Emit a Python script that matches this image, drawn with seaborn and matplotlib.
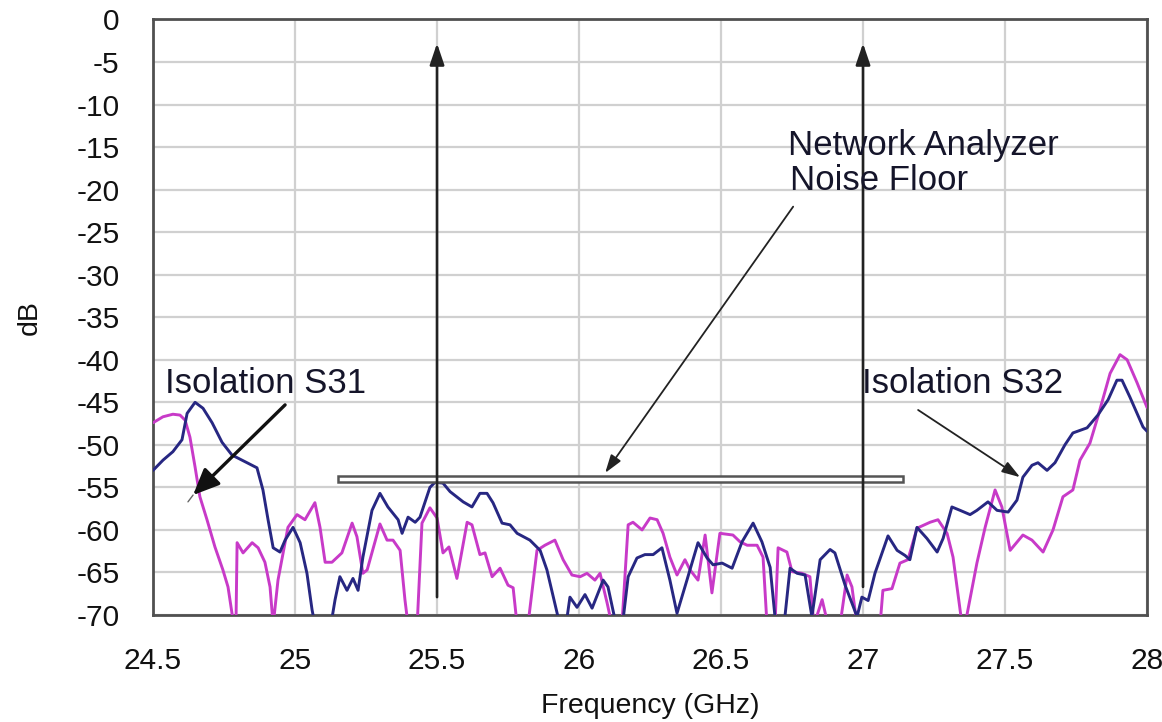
import matplotlib
matplotlib.use("Agg")
import matplotlib.pyplot as plt
import seaborn as sns
import pandas as pd
from matplotlib.patches import Rectangle

# ---------------- data ----------------
s32_freq = [24.500, 24.535, 24.570, 24.602, 24.620, 24.648, 24.676, 24.708, 24.743, 24.778,
            24.831, 24.866, 24.887, 24.905, 24.923, 24.947, 24.965, 24.993, 25.018, 25.042,
            25.060, 25.074, 25.123, 25.141, 25.158, 25.183, 25.204, 25.222, 25.239, 25.271,
            25.299, 25.327, 25.363, 25.377, 25.398, 25.423, 25.440, 25.475, 25.493, 25.521,
            25.546, 25.592, 25.623, 25.651, 25.676, 25.697, 25.729, 25.757, 25.782, 25.827,
            25.863, 25.887, 25.923, 25.933, 25.954, 25.968, 25.993, 26.021, 26.046, 26.085,
            26.102, 26.127, 26.155, 26.173, 26.204, 26.232, 26.261, 26.292, 26.320, 26.345,
            26.380, 26.419, 26.451, 26.472, 26.504, 26.539, 26.574, 26.613, 26.644, 26.673,
            26.690, 26.725, 26.743, 26.768, 26.796, 26.820, 26.849, 26.884, 26.901, 26.937,
            26.961, 26.979, 26.996, 27.018, 27.042, 27.088, 27.120, 27.148, 27.165, 27.190,
            27.225, 27.261, 27.282, 27.313, 27.342, 27.377, 27.401, 27.440, 27.472, 27.511,
            27.542, 27.563, 27.595, 27.616, 27.648, 27.676, 27.711, 27.739, 27.789, 27.827,
            27.863, 27.894, 27.912, 27.940, 27.986, 28.000]
s32_db = [-53.0, -51.8, -50.8, -49.4, -46.3, -45.0, -45.7, -47.4, -49.7, -51.2,
          -52.1, -52.7, -55.3, -58.8, -62.1, -62.6, -61.2, -59.7, -61.5, -65.1,
          -69.4, -71.8, -71.8, -68.2, -65.5, -67.1, -65.7, -67.1, -63.2, -57.7,
          -55.7, -57.3, -58.8, -60.4, -58.5, -59.1, -58.5, -55.0, -54.4, -54.5,
          -55.5, -56.7, -57.3, -55.7, -55.7, -56.8, -59.2, -59.4, -60.4, -61.2,
          -62.4, -64.7, -69.8, -71.2, -71.2, -67.9, -69.1, -67.6, -69.2, -65.9,
          -66.7, -70.6, -70.6, -65.5, -63.3, -62.9, -62.9, -62.1, -65.9, -69.8,
          -65.9, -61.5, -63.3, -64.1, -63.9, -64.5, -61.4, -59.2, -61.4, -64.4,
          -70.2, -70.2, -64.5, -65.1, -65.3, -70.2, -63.5, -62.3, -62.7, -66.5,
          -68.6, -70.2, -67.9, -68.3, -65.1, -60.7, -62.4, -63.0, -63.5, -59.7,
          -61.0, -62.6, -61.0, -57.3, -57.7, -58.2, -57.7, -56.7, -57.7, -57.9,
          -56.5, -53.8, -52.4, -52.1, -53.0, -52.1, -50.0, -48.6, -48.0, -46.5,
          -44.7, -42.4, -42.4, -44.4, -47.9, -48.4]

s31_freq = [24.500, 24.535, 24.570, 24.595, 24.613, 24.630, 24.648, 24.665, 24.690, 24.718,
            24.746, 24.764, 24.778, 24.785, 24.792, 24.796, 24.817, 24.849, 24.870, 24.894,
            24.912, 24.923, 24.940, 24.958, 24.975, 25.007, 25.035, 25.070, 25.088, 25.106,
            25.130, 25.165, 25.201, 25.218, 25.239, 25.254, 25.299, 25.324, 25.345, 25.370,
            25.387, 25.398, 25.430, 25.447, 25.475, 25.500, 25.521, 25.542, 25.570, 25.606,
            25.623, 25.651, 25.669, 25.694, 25.722, 25.750, 25.768, 25.782, 25.820, 25.852,
            25.880, 25.915, 25.944, 25.975, 26.004, 26.028, 26.056, 26.074, 26.099, 26.116,
            26.151, 26.173, 26.190, 26.222, 26.250, 26.275, 26.296, 26.320, 26.345, 26.373,
            26.391, 26.419, 26.444, 26.468, 26.496, 26.542, 26.567, 26.592, 26.627, 26.648,
            26.662, 26.690, 26.701, 26.732, 26.750, 26.785, 26.813, 26.827, 26.856, 26.877,
            26.919, 26.944, 26.961, 26.979, 27.060, 27.070, 27.102, 27.130, 27.158, 27.190,
            27.236, 27.264, 27.296, 27.317, 27.349, 27.359, 27.401, 27.430, 27.465, 27.489,
            27.518, 27.563, 27.595, 27.634, 27.669, 27.704, 27.739, 27.764, 27.799, 27.827,
            27.870, 27.905, 27.930, 27.965, 28.000]
s31_db = [-47.4, -46.7, -46.4, -46.5, -47.1, -49.1, -52.6, -56.1, -58.8, -62.0,
          -64.7, -66.7, -69.8, -71.2, -71.2, -61.5, -62.7, -61.5, -62.1, -63.8,
          -66.7, -71.2, -65.9, -62.7, -59.7, -58.2, -58.8, -56.8, -59.7, -63.8,
          -63.8, -62.7, -59.2, -60.8, -65.1, -64.7, -59.3, -61.2, -61.2, -62.4,
          -68.2, -71.2, -71.2, -59.2, -57.4, -58.6, -62.7, -62.0, -65.7, -59.1,
          -59.4, -62.9, -62.7, -65.5, -64.5, -66.5, -66.8, -71.2, -71.2, -62.4,
          -61.8, -61.2, -63.5, -65.3, -65.5, -65.1, -65.9, -65.1, -68.6, -71.2,
          -71.2, -59.4, -59.1, -60.0, -58.6, -58.8, -60.4, -63.2, -65.3, -63.5,
          -64.7, -65.9, -60.6, -67.4, -60.4, -60.6, -61.4, -61.8, -61.8, -63.2,
          -71.2, -71.2, -62.1, -62.6, -64.9, -65.1, -65.5, -71.2, -68.2, -71.2,
          -71.2, -65.3, -66.7, -71.2, -71.2, -67.1, -66.9, -63.9, -63.5, -59.8,
          -59.1, -58.8, -60.4, -63.2, -71.2, -71.2, -63.9, -59.7, -55.3, -57.3,
          -62.4, -60.6, -61.2, -62.6, -60.0, -56.1, -55.3, -51.8, -49.8, -46.7,
          -41.6, -39.4, -40.0, -42.7, -45.6]

x_ticks = [24.5, 25, 25.5, 26, 26.5, 27, 27.5, 28]
x_tick_labels = ["24.5", "25", "25.5", "26", "26.5", "27", "27.5", "28"]
y_ticks = [0, -5, -10, -15, -20, -25, -30, -35, -40, -45, -50, -55, -60, -65, -70]

noise_floor_start, noise_floor_end = 25.151, 27.141
noise_floor_level = -54.05
marker_freqs = [25.5, 27.0]

# ---------------- plotting ----------------
sns.set_style("white")
plt.rcParams["font.family"] = ["Liberation Sans", "DejaVu Sans"]

BLUE = "#272782"
MAGENTA = "#c83ac8"
TXT = "#15152a"

fig = plt.figure(figsize=(11.62, 7.22), dpi=100)
ax = fig.add_axes([0.1317, 0.1482, 0.8554, 0.8248])

df_blue = pd.DataFrame({"f": s32_freq, "db": s32_db})
df_mag = pd.DataFrame({"f": s31_freq, "db": s31_db})

sns.lineplot(data=df_mag, x="f", y="db", ax=ax, color=MAGENTA, lw=2.1,
             sort=False, estimator=None, zorder=3)
sns.lineplot(data=df_blue, x="f", y="db", ax=ax, color=BLUE, lw=2.1,
             sort=False, estimator=None, zorder=4)

ax.set_xlim(24.5, 28)
ax.set_ylim(-70, 0)
ax.set_xticks(x_ticks)
ax.set_xticklabels(x_tick_labels)
ax.set_yticks(y_ticks)
ax.set_yticklabels([str(v) for v in y_ticks])
ax.grid(True, color="#d0d0d0", lw=1.6)
ax.set_axisbelow(True)
for s in ax.spines.values():
    s.set_color("#505050")
    s.set_linewidth(2.0)
ax.tick_params(axis="both", length=0, labelsize=21.5, colors="#111111")
ax.tick_params(axis="y", pad=24)
ax.tick_params(axis="x", pad=23)
ax.set_xlabel("Frequency (GHz)", fontsize=20.5, color="#111111", labelpad=13)
ax.set_ylabel("dB", fontsize=20.5, color="#111111", labelpad=24)

# noise floor bar
ax.add_patch(Rectangle((noise_floor_start, noise_floor_level - 0.35),
                       noise_floor_end - noise_floor_start, 0.7,
                       facecolor="white", edgecolor="#555555", lw=1.8, zorder=5))

# vertical marker arrows
for fx, fy0 in zip(marker_freqs, [-67.9, -66.7]):
    ax.annotate("", xy=(fx, -2.8), xytext=(fx, fy0),
                arrowprops=dict(arrowstyle="-|>,head_length=0.65,head_width=0.22",
                                mutation_scale=20, lw=1.9, color="#222222",
                                shrinkA=0, shrinkB=0), zorder=6)

# texts
fs = 25
ax.text(24.542, -43.9, "Isolation S31", fontsize=fs, color=TXT, va="baseline", ha="left", zorder=7)
ax.text(26.996, -43.9, "Isolation S32", fontsize=fs, color=TXT, va="baseline", ha="left", zorder=7)
ax.text(26.736, -15.9, "Network Analyzer", fontsize=fs, color=TXT, va="baseline", ha="left", zorder=7)
ax.text(26.743, -20.0, "Noise Floor", fontsize=fs, color=TXT, va="baseline", ha="left", zorder=7)

# S31 arrow (thick) with its faint tail past the tip
ax.plot([24.641, 24.623], [-55.9, -56.7], color="#666666", lw=1.0, zorder=7)
ax.annotate("", xy=(24.641, -55.9), xytext=(24.965, -45.3),
            arrowprops=dict(arrowstyle="-|>,head_length=0.8,head_width=0.35",
                            mutation_scale=20, lw=2.4, color="#111111",
                            shrinkA=0, shrinkB=0), zorder=7)
# S32 arrow (thin)
ax.annotate("", xy=(27.553, -53.8), xytext=(27.194, -45.9),
            arrowprops=dict(arrowstyle="-|>,head_length=0.55,head_width=0.18",
                            mutation_scale=20, lw=1.3, color="#222222",
                            shrinkA=0, shrinkB=0), zorder=7)
# noise floor arrow
ax.annotate("", xy=(26.092, -53.3), xytext=(26.754, -22.0),
            arrowprops=dict(arrowstyle="-|>,head_length=0.55,head_width=0.18",
                            mutation_scale=20, lw=1.3, color="#222222",
                            shrinkA=0, shrinkB=0), zorder=7)

fig.savefig("out.png", dpi=100)
